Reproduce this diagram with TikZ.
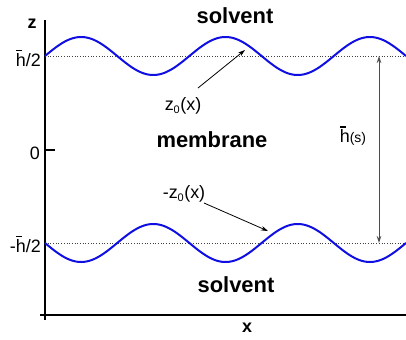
\documentclass[tikz,border=0pt]{standalone}
\usepackage{fontspec}
\setmainfont{Liberation Sans}
\usetikzlibrary{arrows.meta}
\definecolor{wave}{RGB}{15,15,225}
\newcommand{\hbarlab}{\rlap{\raisebox{0.84em}{\kern0.03em\rule{0.3em}{0.075em}}}h}
\tikzset{
  wavecurve/.style={wave, line width=2bp},
  guide/.style={black!75, dotted, line width=0.7bp},
  axisline/.style={black, line width=1.1bp},
  big/.style={font=\fontsize{22}{24}\selectfont\bfseries, inner sep=0pt},
  lab/.style={font=\fontsize{18}{20}\selectfont, inner sep=0pt},
  blab/.style={font=\fontsize{18}{20}\selectfont\bfseries, inner sep=0pt},
  pointer/.style={black, line width=0.8bp, -{Stealth[length=7bp,width=4.5bp]}},
}
\begin{document}
\begin{tikzpicture}[x=1bp,y=-1bp]
\useasboundingbox (0,0) rectangle (406,340);
% axes
\draw[axisline] (45,20) -- (45,320);
\draw[axisline] (40,315) -- (406,315);
\draw[axisline] (45,150) -- (55,150);
% guide lines
\draw[guide] (45,56) -- (406,56);
\draw[guide] (45,243) -- (406,243);
% waves
\draw[wavecurve] plot[domain=45:406, samples=240, smooth] (\x, {56-19*sin(((\x-45)/144.4)*360)});
\draw[wavecurve] plot[domain=45:406, samples=240, smooth] (\x, {243+19*sin(((\x-45)/144.4)*360)});
% labels
\node[big] (top) at (235,16) {solvent};
\node[big] (bot) at (236,285) {solvent};
\node[big] (mem) at (212,140) {membrane};
\node[blab] (zl) at (32,24) {z};
\node[blab] (xl) at (247,328) {x};
\node[lab, anchor=east] (hp) at (41,58) {\hbarlab/2};
\node[lab, anchor=east] (h0) at (40,153) {0};
\node[lab, anchor=east] (hm) at (41,244) {-\hbarlab/2};
\node[lab] (z0) at (183,106) {z\textsubscript{\fontsize{11}{11}\selectfont 0}(x)};
\node[lab] (mz0) at (184,194) {-z\textsubscript{\fontsize{11}{11}\selectfont 0}(x)};
\node[lab] (hs) at (353,136) {\hbarlab{\fontsize{14}{14}\selectfont(s)}};
% pointers
\coordinate (a1s) at (198,88);
\coordinate (a1e) at (245,50);
\coordinate (a2s) at (204,203);
\coordinate (a2e) at (268,231);
\draw[pointer] (a1s) -- (a1e);
\draw[pointer] (a2s) -- (a2e);
\coordinate (ht) at (379,56);
\coordinate (hb) at (379,243);
\draw[black!70, line width=1bp, {Stealth[length=7bp,width=4.5bp]}-{Stealth[length=7bp,width=4.5bp]}] (ht) -- (hb);
\end{tikzpicture}
\end{document}
